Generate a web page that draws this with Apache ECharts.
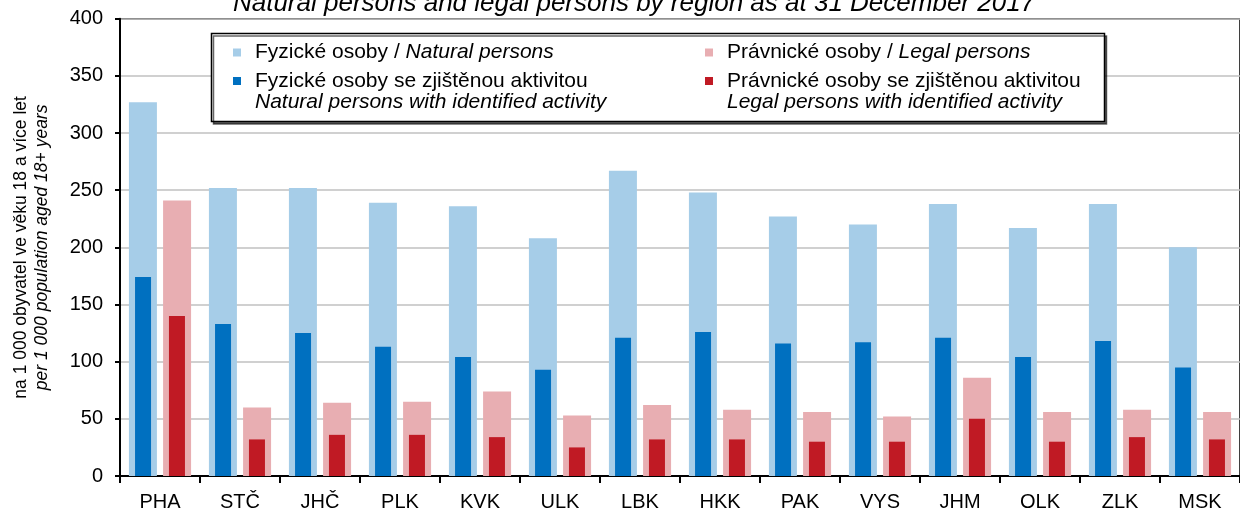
<!DOCTYPE html>
<html>
<head>
<meta charset="utf-8">
<script src="https://cdn.jsdelivr.net/npm/echarts@6/dist/echarts.min.js"></script>
<style>
  html, body { margin: 0; padding: 0; background: #fff; }
  #main { width: 1240px; height: 512px; }
</style>
</head>
<body>
<div id="main"></div>
<script>
var regions = ["PHA", "STČ", "JHČ", "PLK", "KVK", "ULK", "LBK", "HKK", "PAK", "VYS", "JHM", "OLK", "ZLK", "MSK"];
var natural = [327, 252, 252, 239, 236, 208, 267, 248, 227, 220, 238, 217, 238, 200];
var naturalActive = [174, 133, 125, 113, 104, 93, 121, 126, 116, 117, 121, 104, 118, 95];
var legal = [241, 60, 64, 65, 74, 53, 62, 58, 56, 52, 86, 56, 58, 56];
var legalActive = [140, 32, 36, 36, 34, 25, 32, 32, 30, 30, 50, 30, 34, 32];
var yTicks = { min: 0, max: 400, interval: 50 };

var font = '"Liberation Sans", Arial, sans-serif';

function legendBlock(left, top, name, text) {
  return {
    left: left,
    top: top,
    padding: 0,
    itemWidth: 8,
    itemHeight: 8,
    icon: "rect",
    selectedMode: false,
    data: [name],
    formatter: function () { return text; },
    textStyle: {
      fontFamily: font,
      fontSize: 21,
      color: "#000",
      lineHeight: 21,
      padding: [0, 0, 0, 9],
      rich: {
        n: { fontFamily: font, fontSize: 21, color: "#000", lineHeight: 21 },
        i: { fontFamily: font, fontSize: 21, color: "#000", lineHeight: 21, fontStyle: "italic" }
      }
    }
  };
}

var option = {
  animation: false,
  backgroundColor: "#fff",
  grid: {
    left: 120,
    right: -9,
    top: 18.7,
    bottom: 34.7,
    show: true,
    borderColor: "#000",
    borderWidth: 1.5,
    backgroundColor: "transparent"
  },
  graphic: [
    {
      type: "text",
      x: 634,
      y: 4,
      z: 10,
      style: {
        text: "Natural persons and legal persons by region as at 31 December 2017",
        fontFamily: font,
        fontSize: 26,
        fontStyle: "italic",
        fill: "#000",
        align: "center",
        verticalAlign: "middle"
      }
    },
    {
      type: "rect",
      z: 3,
      shape: { x: 211.5, y: 33.5, width: 893, height: 88 },
      style: {
        fill: "#fff",
        stroke: "#000",
        lineWidth: 1.5,
        shadowColor: "rgba(0,0,0,0.6)",
        shadowOffsetX: 2,
        shadowOffsetY: 2.5,
        shadowBlur: 0
      }
    }
  ],
  legend: [
    legendBlock(233, 42, "Fyzické osoby", "{n|Fyzické osoby / }{i|Natural persons}"),
    legendBlock(705, 42, "Právnické osoby", "{n|Právnické osoby / }{i|Legal persons}"),
    legendBlock(233, 49.5, "Fyzické osoby se zjištěnou aktivitou",
      "\n{n|Fyzické osoby se zjištěnou aktivitou}\n{i|Natural persons with identified activity}"),
    legendBlock(705, 49.5, "Právnické osoby se zjištěnou aktivitou",
      "\n{n|Právnické osoby se zjištěnou aktivitou}\n{i|Legal persons with identified activity}")
  ],
  xAxis: [
    {
      type: "category",
      data: regions,
      axisLine: { lineStyle: { color: "#000", width: 2 } },
      axisTick: { show: true, interval: 0, length: 7, lineStyle: { color: "#000", width: 2 } },
      axisLabel: { interval: 0, margin: 16, color: "#000", fontSize: 20, fontFamily: font },
      splitLine: { show: false }
    },
    {
      type: "category",
      data: regions,
      show: false
    }
  ],
  yAxis: {
    type: "value",
    min: yTicks.min,
    max: yTicks.max,
    interval: yTicks.interval,
    name: "{a|na 1 000 obyvatel ve věku 18 a více let}\n{b|per 1 000 population aged 18+ years}",
    nameLocation: "middle",
    nameRotate: 90,
    nameGap: 67,
    nameTextStyle: {
      fontFamily: font,
      fontSize: 17.5,
      color: "#000",
      lineHeight: 21,
      rich: {
        a: { fontFamily: font, fontSize: 17.5, color: "#000", lineHeight: 21 },
        b: { fontFamily: font, fontSize: 17.5, color: "#000", lineHeight: 21, fontStyle: "italic" }
      }
    },
    axisLine: { show: true, lineStyle: { color: "#000", width: 2 } },
    axisTick: { show: true, length: 5, lineStyle: { color: "#000", width: 2 } },
    axisLabel: { margin: 17, color: "#000", fontSize: 20, fontFamily: font },
    splitLine: { lineStyle: { color: "#c0c0c0", width: 1.5 } }
  },
  series: [
    {
      name: "Fyzické osoby",
      type: "bar",
      xAxisIndex: 0,
      data: natural,
      barWidth: 28,
      barGap: "22%",
      itemStyle: { color: "#a6cde8" }
    },
    {
      name: "Právnické osoby",
      type: "bar",
      xAxisIndex: 0,
      data: legal,
      barWidth: 28,
      barGap: "22%",
      itemStyle: { color: "#e8aeb2" }
    },
    {
      name: "Fyzické osoby se zjištěnou aktivitou",
      type: "bar",
      xAxisIndex: 1,
      data: naturalActive,
      barWidth: 16,
      barGap: "112%",
      itemStyle: { color: "#0070c0" }
    },
    {
      name: "Právnické osoby se zjištěnou aktivitou",
      type: "bar",
      xAxisIndex: 1,
      data: legalActive,
      barWidth: 16,
      barGap: "112%",
      itemStyle: { color: "#c01a24" }
    }
  ]
};

var myChart = echarts.init(document.getElementById("main"));
myChart.setOption(option);
</script>
</body>
</html>
